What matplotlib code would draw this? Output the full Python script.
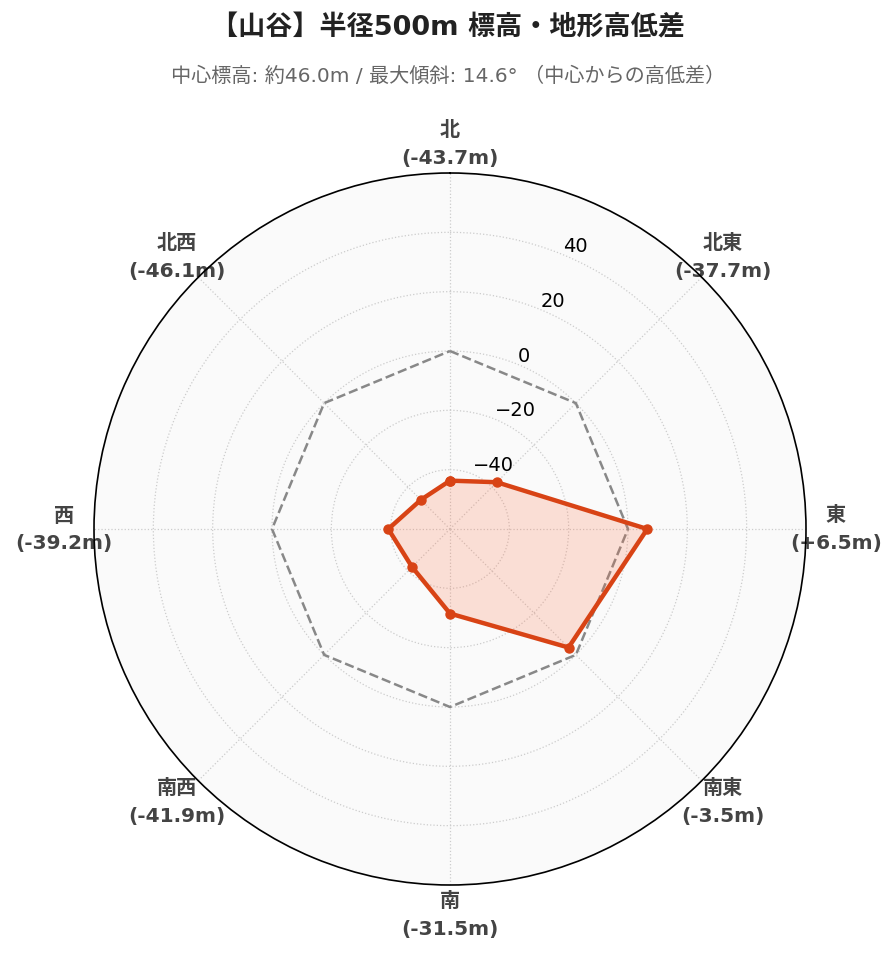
import numpy as np
import matplotlib
matplotlib.use("Agg")
import matplotlib.pyplot as plt

plt.rcParams['font.family'] = ['DejaVu Sans', 'Noto Sans CJK JP']

directions = ["北", "北東", "東", "南東", "南", "南西", "西", "北西"]
diffs = [-43.7, -37.7, 6.5, -3.5, -31.5, -41.9, -39.2, -46.1]
baseline = [0, 0, 0, 0, 0, 0, 0, 0]
rticks = [-40, -20, 0, 20, 40]
title = "【山谷】半径500m 標高・地形高低差"
subtitle = "中心標高: 約46.0m / 最大傾斜: 14.6° （中心からの高低差）"

color = "#d84315"
fill_color = "#ff7043"

fig = plt.figure(figsize=(8.96, 9.62), dpi=100)
ax = fig.add_axes([94/896, 76/962, 712/896, 712/962], projection='polar')
ax.set_facecolor('#fafafa')
ax.set_theta_zero_location('N')
ax.set_theta_direction(-1)

n = len(directions)
angles = np.arange(n) * 2 * np.pi / n
a_closed = np.append(angles, angles[0])
d_closed = np.append(diffs, diffs[0])
b_closed = np.append(baseline, baseline[0])

ax.plot(a_closed, b_closed, linestyle='--', color='#888888', lw=1.8, zorder=2)
ax.fill(a_closed, d_closed, color=fill_color, alpha=0.2, zorder=3, lw=0)
ax.plot(a_closed, d_closed, color=color, lw=3.2, marker='o', markersize=6.5, zorder=4)

ax.set_ylim(-60, 60)
ax.set_yticks(rticks)
ax.set_yticklabels([f"{t}".replace('-', '\u2212') for t in rticks], fontsize=14)
ax.set_rlabel_position(22.5)

labels = [f"{d}\n({v:+.1f}m)" if v > 0 else f"{d}\n({v:.1f}m)" for d, v in zip(directions, diffs)]
ax.set_xticks(angles)
ax.set_xticklabels(labels, fontsize=14.5, fontweight='bold', color='#444444', linespacing=1.6)
ax.tick_params(axis='x', pad=11)

ax.grid(True, linestyle=':', color='#cccccc', lw=0.9)
ax.spines['polar'].set_color('black')
ax.spines['polar'].set_linewidth(1.2)

fig.text(0.5, 1 - 28/962, title, ha='center', va='center', fontsize=19.5, fontweight='bold', color='#222222')
fig.text(0.5, 1 - 76/962, subtitle, ha='center', va='center', fontsize=14.5, color='#666666')

fig.savefig('out.png', dpi=100)
